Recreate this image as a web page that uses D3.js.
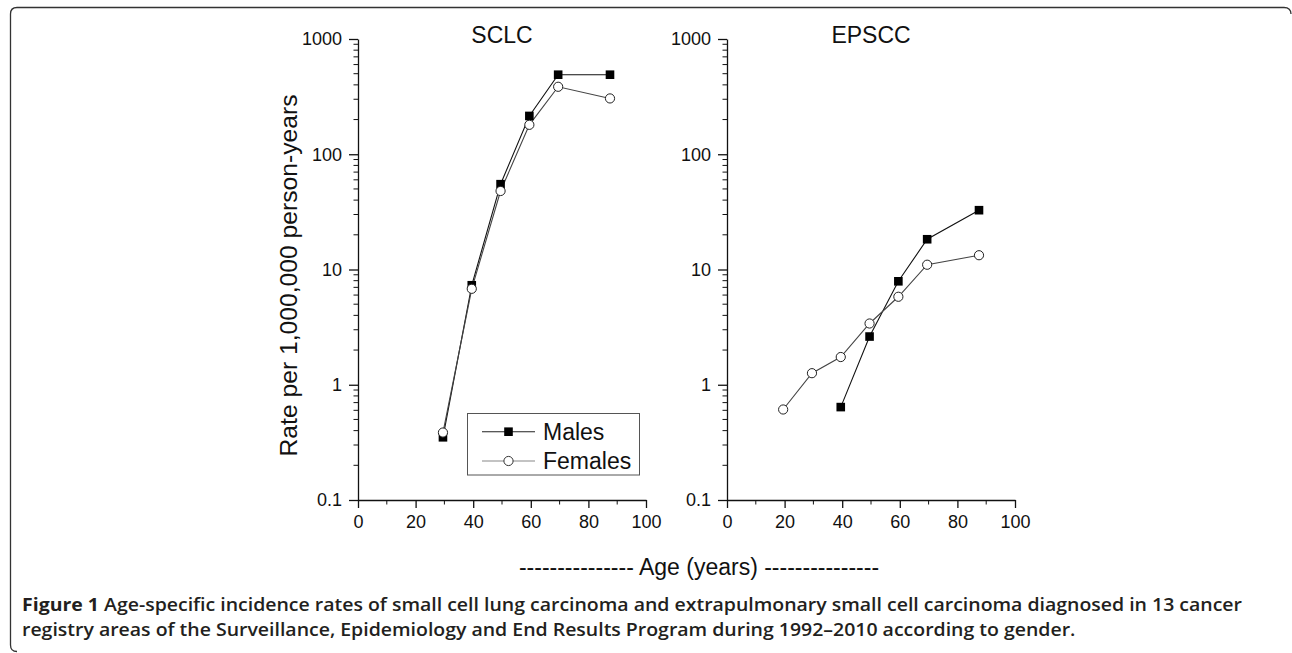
<!DOCTYPE html>
<html>
<head>
<meta charset="utf-8">
<script src="https://cdn.jsdelivr.net/npm/d3@7"></script>
<style>
  body { margin: 0; background: #fff; }
  svg { display: block; }
  .tickTxt { font-family: "Liberation Sans", Arial, sans-serif; font-size: 18px; fill: #111; }
  .bigTxt { font-family: "Liberation Sans", Arial, sans-serif; font-size: 23px; fill: #111; }
  .capTxt { font-family: "Open Sans", sans-serif; font-size: 18px; fill: #231f20; font-weight: 600; }
</style>
</head>
<body>
<div id="fig"></div>
<script>
// data
var sclcAges = [29.5, 39.5, 49.5, 59.5, 69.5, 87.5];
var sclcMales = [0.35, 7.3, 55, 215, 490, 490];
var sclcFemales = [0.385, 6.8, 48, 180, 385, 305];

var epsccMaleAges = [39.5, 49.5, 59.5, 69.5, 87.5];
var epsccMales = [0.64, 2.62, 7.9, 18.3, 32.7];
var epsccFemaleAges = [19.5, 29.5, 39.5, 49.5, 59.5, 69.5, 87.5];
var epsccFemales = [0.61, 1.26, 1.74, 3.4, 5.8, 11.0, 13.3];

var xTicks = [0, 20, 40, 60, 80, 100];
var xMinor = [10, 30, 50, 70, 90];
var yTicks = [0.1, 1, 10, 100, 1000];
var yTickLabels = ["0.1", "1", "10", "100", "1000"];
var legendNames = ["Males", "Females"];

var capLine1 = "Age-specific incidence rates of small cell lung carcinoma and extrapulmonary small cell carcinoma diagnosed in 13 cancer";
var capLine2 = "registry areas of the Surveillance, Epidemiology and End Results Program during 1992\u20132010 according to gender.";

// chart set up
var width = 1292;
var height = 653;
var plotTop = 39;
var plotBot = 500;
var plotW = 288;

var svg = d3
  .select("#fig")
  .append("svg")
  .attr("width", width)
  .attr("height", height);

// the rounded frame round the figure
svg
  .append("path")
  .attr("d", "M1291,14 Q1291,7.5 1284,7.5 L17,7.5 Q10.5,7.5 10.5,14 L10.5,645 Q10.5,651.5 17,651.5")
  .attr("fill", "none")
  .attr("stroke", "#333")
  .attr("stroke-width", 1.3);

var yScale = d3.scaleLog().domain([0.1, 1000]).range([plotBot, plotTop]);

// minor log ticks 2..9 in every decade
var yMinor = [];
[0.1, 1, 10, 100].forEach(function(dec) {
  for (var k = 2; k <= 9; k++) yMinor.push(dec * k);
});

function drawPanel(left, title, males, maleAges, females, femaleAges) {
  var xScale = d3.scaleLinear().domain([0, 100]).range([left, left + plotW]);
  var g = svg.append("g");

  // x axis
  var xAxis = d3.axisBottom(xScale).tickValues(xTicks).tickSize(8).tickSizeOuter(0).tickPadding(4);
  var xg = g.append("g").attr("transform", "translate(0," + plotBot + ")").call(xAxis);
  xg.selectAll("text").attr("class", "tickTxt").attr("font-size", null).attr("font-family", null).attr("dy", "0.9em");
  xg.selectAll(".minor")
    .data(xMinor)
    .enter()
    .append("line")
    .attr("x1", function(d) { return xScale(d); })
    .attr("x2", function(d) { return xScale(d); })
    .attr("y1", 0)
    .attr("y2", 4.5)
    .attr("stroke", "#111");

  // y axis
  var yAxis = d3.axisLeft(yScale).tickValues(yTicks).tickSize(9).tickSizeOuter(0).tickPadding(7)
    .tickFormat(function(d, i) { return yTickLabels[i]; });
  var yg = g.append("g").attr("transform", "translate(" + left + ",0)").call(yAxis);
  yg.selectAll("text").attr("class", "tickTxt").attr("font-size", null).attr("font-family", null);
  yg.selectAll(".minor")
    .data(yMinor)
    .enter()
    .append("line")
    .attr("x1", 0)
    .attr("x2", -4.5)
    .attr("y1", function(d) { return yScale(d); })
    .attr("y2", function(d) { return yScale(d); })
    .attr("stroke", "#111");
  g.selectAll(".domain, .tick line").attr("stroke", "#111").attr("stroke-width", 1.3);

  // title
  g.append("text")
    .attr("class", "bigTxt")
    .attr("x", left + plotW / 2)
    .attr("y", 42.5)
    .attr("text-anchor", "middle")
    .text(title);

  var line = d3.line()
    .x(function(d) { return xScale(d[0]); })
    .y(function(d) { return yScale(d[1]); });

  var mData = d3.zip(maleAges, males);
  var fData = d3.zip(femaleAges, females);

  g.append("path").datum(mData).attr("d", line).attr("fill", "none").attr("stroke", "#111").attr("stroke-width", 1.1);
  g.append("path").datum(fData).attr("d", line).attr("fill", "none").attr("stroke", "#444").attr("stroke-width", 1.1);

  g.selectAll(".mPt")
    .data(mData)
    .enter()
    .append("rect")
    .attr("x", function(d) { return xScale(d[0]) - 4.3; })
    .attr("y", function(d) { return yScale(d[1]) - 4.3; })
    .attr("width", 8.6)
    .attr("height", 8.6)
    .attr("fill", "#000");

  g.selectAll(".fPt")
    .data(fData)
    .enter()
    .append("circle")
    .attr("cx", function(d) { return xScale(d[0]); })
    .attr("cy", function(d) { return yScale(d[1]); })
    .attr("r", 4.6)
    .attr("fill", "#fff")
    .attr("stroke", "#222")
    .attr("stroke-width", 1);

  return xScale;
}

drawPanel(358, "SCLC", sclcMales, sclcAges, sclcFemales, sclcAges);
drawPanel(727, "EPSCC", epsccMales, epsccMaleAges, epsccFemales, epsccFemaleAges);

// legend inside the left panel
var lg = svg.append("g");
lg.append("rect")
  .attr("x", 467.5)
  .attr("y", 413.5)
  .attr("width", 172)
  .attr("height", 61.5)
  .attr("fill", "#fff")
  .attr("stroke", "#555")
  .attr("stroke-width", 1);
legendNames.forEach(function(name, i) {
  var ly = 431.7 + i * 29.3;
  lg.append("line")
    .attr("x1", 482).attr("x2", 535)
    .attr("y1", ly).attr("y2", ly)
    .attr("stroke", i === 0 ? "#222" : "#888")
    .attr("stroke-width", 1.1);
  if (i === 0) {
    lg.append("rect").attr("x", 508.5 - 4.3).attr("y", ly - 4.3).attr("width", 8.6).attr("height", 8.6).attr("fill", "#000");
  } else {
    lg.append("circle").attr("cx", 508.5).attr("cy", ly).attr("r", 4.6).attr("fill", "#fff").attr("stroke", "#333");
  }
  lg.append("text")
    .attr("class", "bigTxt")
    .attr("x", 543)
    .attr("y", ly + 8.3)
    .text(name);
});

// y label, rotated
svg.append("text")
  .attr("class", "bigTxt")
  .attr("transform", "translate(297,275.5)rotate(-90)")
  .attr("text-anchor", "middle")
  .attr("textLength", 362)
  .attr("lengthAdjust", "spacingAndGlyphs")
  .text("Rate per 1,000,000 person-years");

// shared x label
svg.append("text")
  .attr("class", "bigTxt")
  .attr("x", 699)
  .attr("y", 575)
  .attr("text-anchor", "middle")
  .text("--------------- Age (years) ---------------");

// caption, both lines stretched by the same factor so line 1 fills its width
var c1 = svg.append("text").attr("class", "capTxt").attr("x", 22).attr("y", 611);
c1.append("tspan").attr("font-weight", 700).text("Figure 1 ");
c1.append("tspan").text(capLine1);
var c2 = svg.append("text").attr("class", "capTxt").attr("x", 22).attr("y", 636).text(capLine2);
var len1 = c1.node().getComputedTextLength();
var len2 = c2.node().getComputedTextLength();
var stretch = 1220 / len1;
c1.attr("textLength", 1220).attr("lengthAdjust", "spacingAndGlyphs");
c2.attr("textLength", len2 * stretch).attr("lengthAdjust", "spacingAndGlyphs");
</script>
</body>
</html>
